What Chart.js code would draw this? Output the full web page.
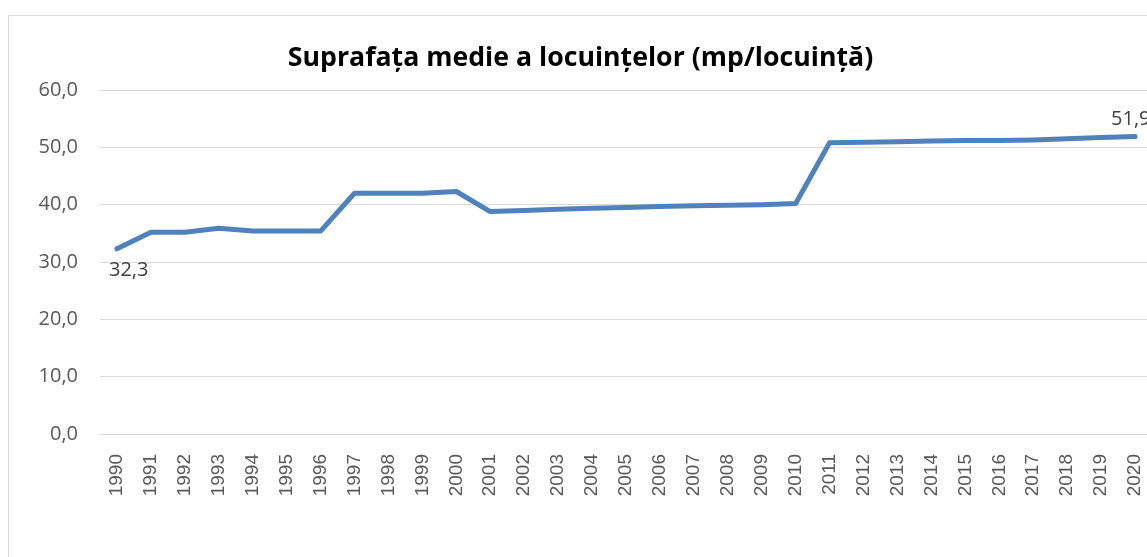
<!DOCTYPE html>
<html lang="ro">
<head>
<meta charset="UTF-8">
<title>Suprafața medie a locuințelor</title>
<script src="https://cdn.jsdelivr.net/npm/chart.js"></script>
<style>
  html, body { margin: 0; padding: 0; background: #fff; overflow: hidden; }
  .chart-box {
    position: absolute; left: 8px; top: 15px;
    width: 1150px; height: 560px;
    border: 1px solid #d9d9d9; background: #fff;
  }
</style>
</head>
<body>
<div class="chart-box">
  <canvas id="areaChart" width="1150" height="560"></canvas>
</div>
<script>
const years = ['1990','1991','1992','1993','1994','1995','1996','1997','1998','1999','2000',
  '2001','2002','2003','2004','2005','2006','2007','2008','2009','2010',
  '2011','2012','2013','2014','2015','2016','2017','2018','2019','2020'];
const avgArea = [32.3, 35.2, 35.2, 35.9, 35.4, 35.4, 35.4, 42.0, 42.0, 42.0, 42.3,
  38.8, 39.0, 39.2, 39.4, 39.5, 39.7, 39.8, 39.9, 40.0, 40.2,
  50.8, 50.9, 51.0, 51.1, 51.2, 51.2, 51.3, 51.5, 51.7, 51.9];
const labelledPoints = [0, 30]; // first and last get a value label
const yTicks = [0, 10, 20, 30, 40, 50, 60];

const fmt = v => v.toFixed(1).replace('.', ',');

// simple value labels (no datalabels plugin available)
const valueLabels = {
  id: 'valueLabels',
  afterDatasetsDraw(chart) {
    const ctx = chart.ctx;
    const meta = chart.getDatasetMeta(0);
    ctx.save();
    ctx.font = '20px "Open Sans", sans-serif';
    ctx.fillStyle = '#404040';
    ctx.textBaseline = 'alphabetic';
    ctx.textAlign = 'left';
    labelledPoints.forEach(i => {
      const p = meta.data[i];
      if (i === 0) {
        ctx.fillText(fmt(avgArea[i]), p.x - 8, p.y + 27);
      } else {
        ctx.fillText(fmt(avgArea[i]), p.x - 24, p.y - 11);
      }
    });
    ctx.restore();
  }
};

new Chart(document.getElementById('areaChart'), {
  type: 'line',
  data: {
    labels: years,
    datasets: [{
      data: avgArea,
      borderColor: '#4f81bd',
      borderWidth: 5,
      borderCapStyle: 'round',
      borderJoinStyle: 'round',
      pointRadius: 0,
      tension: 0,
      fill: false
    }]
  },
  options: {
    responsive: false,
    animation: false,
    layout: { padding: { left: 0, right: 7, top: 0, bottom: 0 } },
    plugins: {
      legend: { display: false },
      tooltip: { enabled: false },
      title: {
        display: true,
        text: 'Suprafața medie a locuințelor (mp/locuință)',
        color: '#000',
        font: { family: 'Open Sans', size: 26.7, weight: 'bold' },
        padding: { top: 26, bottom: 16 }
      }
    },
    scales: {
      x: {
        offset: true,
        grid: { display: false, drawTicks: false },
        border: { display: false },
        ticks: {
          color: '#595959',
          font: { family: 'Liberation Sans', size: 19 },
          minRotation: 90, maxRotation: 90,
          autoSkip: false, padding: 20
        },
        afterFit(scale) {
          scale.height = 142;
          scale.paddingLeft = 0;
          scale.paddingRight = 0;
        }
      },
      y: {
        min: 0, max: 60,
        afterBuildTicks(scale) { scale.ticks = yTicks.map(v => ({ value: v })); },
        grid: { color: '#d9d9d9', lineWidth: 1, drawTicks: false },
        border: { display: false },
        ticks: {
          color: '#595959',
          font: { family: 'Open Sans', size: 20 },
          padding: 22,
          callback: v => fmt(v)
        },
        afterFit(scale) { scale.width = 91; }
      }
    }
  },
  plugins: [valueLabels]
});
</script>
</body>
</html>
